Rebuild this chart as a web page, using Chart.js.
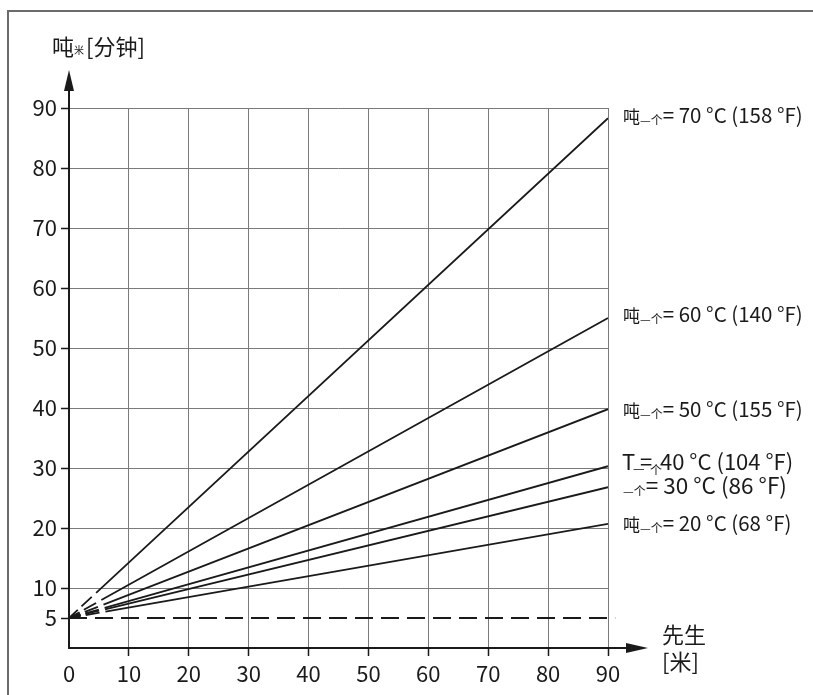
<!DOCTYPE html>
<html>
<head>
<meta charset="utf-8">
<script src="https://cdn.jsdelivr.net/npm/chart.js@4.4.1/dist/chart.umd.min.js"></script>
<style>
html, body { margin: 0; padding: 0; background: #fff; }
#wrap { position: relative; width: 813px; height: 695px; overflow: hidden; }
#frame { position: absolute; left: 7px; top: 10px; width: 900px; height: 800px;
  border-left: 2px solid #6b6b6b; border-top: 2px solid #6b6b6b; }
canvas { position: absolute; left: 0; top: 0; }
</style>
</head>
<body>
<div id="wrap">
  <div id="frame"></div>
  <canvas id="chart" width="813" height="695"></canvas>
</div>
<script>
// data
const xTicks = [0, 10, 20, 30, 40, 50, 60, 70, 80, 90];
const yTicks = [5, 10, 20, 30, 40, 50, 60, 70, 80, 90];
const xRange = [0, 90];
const startValue = 5;
const endValues = [88.3, 55.0, 39.8, 30.3, 26.8, 20.7];
const tempLabels = ['70 °C (158 °F)', '60 °C (140 °F)', '50 °C (155 °F)', '40 °C (104 °F)', '30 °C (86 °F)', '20 °C (68 °F)'];
const baseLineX = [0, 91.2];

const FONT = '"Noto Sans CJK SC", "Noto Sans", sans-serif';
const INK = '#1a1a1a';

// how each right-hand label is written, and its baseline offset from the line end
const labelKinds = ['t', 't', 't', 'T', 'sub', 't'];
const labelDy = [5, 4, 8, 4, 7, 7];

Chart.defaults.font.family = FONT;

const lineSets = endValues.map((v, i) => ({
  label: tempLabels[i],
  data: [{ x: xRange[0], y: startValue }, { x: xRange[1], y: v }],
  borderColor: INK,
  borderWidth: 1.8,
  borderDash: [12, 5, 14, 6, 3000, 0],
  borderCapStyle: 'butt',
  pointRadius: 0,
  tension: 0
}));

const baseSet = {
  label: 'base',
  data: baseLineX.map(x => ({ x: x, y: startValue })),
  borderColor: INK,
  borderWidth: 2,
  borderDash: [18, 8],
  borderCapStyle: 'butt',
  pointRadius: 0,
  clip: false
};

function runs(ctx, x0, y, parts) {
  let x = x0;
  parts.forEach(p => {
    ctx.font = p.size + 'px ' + FONT;
    const px = p.at !== undefined ? x0 + p.at : x;
    ctx.fillText(p.t, px, y + (p.dy || 0));
    x = px + ctx.measureText(p.t).width;
  });
}

const decor = {
  id: 'decor',
  afterDatasetsDraw(chart) {
    const ctx = chart.ctx;
    const a = chart.chartArea;
    ctx.save();
    ctx.strokeStyle = INK;
    ctx.fillStyle = INK;
    ctx.lineWidth = 2;
    ctx.setLineDash([]);
    // y axis with arrow
    ctx.beginPath();
    ctx.moveTo(a.left, a.bottom + 1);
    ctx.lineTo(a.left, a.top - 20);
    ctx.stroke();
    ctx.beginPath();
    ctx.moveTo(a.left, a.top - 38);
    ctx.lineTo(a.left - 5, a.top - 17);
    ctx.lineTo(a.left + 5, a.top - 17);
    ctx.closePath();
    ctx.fill();
    // x axis with arrow
    ctx.beginPath();
    ctx.moveTo(a.left - 1, a.bottom);
    ctx.lineTo(a.right + 20, a.bottom);
    ctx.stroke();
    ctx.beginPath();
    ctx.moveTo(a.right + 40, a.bottom);
    ctx.lineTo(a.right + 18, a.bottom - 5);
    ctx.lineTo(a.right + 18, a.bottom + 5);
    ctx.closePath();
    ctx.fill();
    ctx.restore();
  },
  afterDraw(chart) {
    const ctx = chart.ctx;
    const a = chart.chartArea;
    const ys = chart.scales.y;
    ctx.save();
    ctx.fillStyle = INK;
    ctx.textBaseline = 'alphabetic';
    ctx.textAlign = 'left';

    // axis titles
    runs(ctx, 52, 55, [
      { t: '吨', size: 22 },
      { t: '米', size: 10, dy: -1 },
      { t: '[分钟]', size: 22, at: 34 }
    ]);
    runs(ctx, 662, 643, [{ t: '先生', size: 22 }]);
    runs(ctx, 662, 670, [{ t: '[米]', size: 22 }]);

    // line labels
    const lx = a.right + 15;
    tempLabels.forEach((txt, i) => {
      const y = ys.getPixelForValue(endValues[i]) + labelDy[i];
      const k = labelKinds[i];
      if (k === 't') {
        runs(ctx, lx, y, [
          { t: '吨', size: 17 },
          { t: '—个', size: 12, dy: 2 },
          { t: '= ' + txt, size: 20.5 }
        ]);
      } else if (k === 'T') {
        runs(ctx, lx - 1, y, [
          { t: 'T', size: 22 },
          { t: '—', size: 13, dy: 3, at: 11 },
          { t: '=', size: 22, at: 18 },
          { t: '个', size: 12, dy: 5, at: 28 },
          { t: txt, size: 22, at: 38 }
        ]);
      } else {
        runs(ctx, lx, y, [
          { t: '—个', size: 12, dy: 2 },
          { t: '= ' + txt, size: 22.5 }
        ]);
      }
    });
    ctx.restore();
  }
};

new Chart(document.getElementById('chart'), {
  type: 'line',
  data: { datasets: lineSets.concat([baseSet]) },
  options: {
    responsive: false,
    animation: false,
    layout: { padding: { top: 108, right: 205, left: 0, bottom: 0 } },
    plugins: { legend: { display: false }, tooltip: { enabled: false } },
    scales: {
      x: {
        type: 'linear',
        min: xRange[0],
        max: xRange[1],
        afterBuildTicks: s => { s.ticks = xTicks.map(v => ({ value: v })); },
        afterFit: s => { s.height = 47; },
        grid: {
          color: c => (c.tick && c.tick.value === 0) ? 'rgba(0,0,0,0)' : '#7a7a7a',
          lineWidth: 1,
          drawTicks: true,
          tickLength: 8,
          tickWidth: 1.5,
          tickColor: c => (c.tick && c.tick.value === 0) ? 'rgba(0,0,0,0)' : INK
        },
        border: { display: false },
        ticks: { font: { size: 22 }, color: INK, padding: 4, maxRotation: 0 }
      },
      y: {
        type: 'linear',
        min: 0,
        max: 90,
        afterBuildTicks: s => { s.ticks = yTicks.map(v => ({ value: v })); },
        afterFit: s => { s.width = 69; },
        grid: {
          color: c => (c.tick && c.tick.value === 5) ? 'rgba(0,0,0,0)' : '#7a7a7a',
          lineWidth: 1,
          drawTicks: true,
          tickLength: 8,
          tickWidth: 1.5,
          tickColor: INK
        },
        border: { display: false },
        ticks: { font: { size: 22 }, color: INK, padding: 4 }
      }
    }
  },
  plugins: [decor]
});
</script>
</body>
</html>
